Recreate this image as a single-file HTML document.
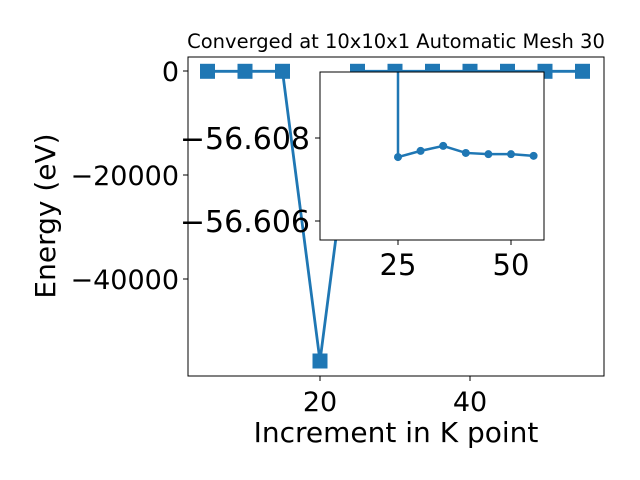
<!DOCTYPE html>
<html><head><meta charset="utf-8"><style>body{margin:0;background:#fff}svg{display:block;font-family:"DejaVu Sans","Liberation Sans",sans-serif}</style></head>
<body>
<svg id="c" width="640" height="480"></svg>
<script>
const kpoints=[5,10,15,20,25,30,35,40,45,50,55];
const energies=[-56.6,-56.6,-56.6,-55770,-56.6075,-56.6077,-56.6078,-56.6076,-56.6076,-56.6076,-56.6076];
const xTicks=[20,40];
const yTicks=[0,-20000,-40000];
const yTickLabels=["0","\u221220000","\u221240000"];
const insetX=[20,25,30,35,40,45,50,55];
const insetY=[-55770,-56.60754,-56.60769,-56.60781,-56.60764,-56.60761,-56.60761,-56.60757];
const insetXTicks=[25,50];
const insetYTicks=[-56.608,-56.606];
const insetYTickLabels=["\u221256.608","\u221256.606"];
const NS="http://www.w3.org/2000/svg",svg=document.getElementById('c');
function mk(t,a,p){const e=document.createElementNS(NS,t);for(const k in a)e.setAttribute(k,a[k]);(p||svg).appendChild(e);return e;}
const C='#1f77b4';
const L=188,R=604,T=57,B=376;
const sx=v=>320+(v-20)*7.5, sy=v=>71-v*104/20000;
let g=mk('g',{});
mk('polyline',{points:kpoints.map((v,i)=>sx(v)+','+sy(energies[i])).join(' '),fill:'none',stroke:C,'stroke-width':2.8},g);
kpoints.forEach((v,i)=>{const r=mk('rect',{x:sx(v)-7.5,y:sy(energies[i])-7.5,width:15,height:15,fill:C},g);});
mk('rect',{x:L,y:T,width:R-L,height:B-T,fill:'none',stroke:'#000','stroke-width':1});
xTicks.forEach(v=>{mk('line',{x1:sx(v),x2:sx(v),y1:B,y2:B+5,stroke:'#000'});const t=mk('text',{x:sx(v),y:B+35,'font-size':27,'text-anchor':'middle'});t.textContent=v;});
yTicks.forEach((v,i)=>{mk('line',{x1:L-5,x2:L,y1:sy(v),y2:sy(v),stroke:'#000'});const t=mk('text',{x:L-9,y:sy(v)+10,'font-size':27,'text-anchor':'end'});t.textContent=yTickLabels[i];});
let t=mk('text',{x:396,y:442,'font-size':28,'text-anchor':'middle'});t.textContent='Increment in K point';
t=mk('text',{x:55,y:216,'font-size':28,'text-anchor':'middle',transform:'rotate(-90 55 216)'});t.textContent='Energy (eV)';
t=mk('text',{x:396,y:48,'font-size':19.5,'text-anchor':'middle'});t.textContent='Converged at 10x10x1 Automatic Mesh 30';
const IL=320,IR=544,IT=72,IB=240;
const ix=v=>398+(v-25)*4.52, iy=v=>138+(v+56.608)*41500;
const ig=mk('g',{});
mk('rect',{x:IL,y:IT,width:IR-IL,height:IB-IT,fill:'#fff'},ig);
mk('clipPath',{id:'ic'},ig);mk('rect',{x:IL,y:IT,width:IR-IL,height:IB-IT},document.getElementById('ic'));
const dg=mk('g',{'clip-path':'url(#ic)'},ig);
const pts=insetX.map((v,i)=>[ix(v),Math.max(-1000,iy(insetY[i]))]);
pts[0][0]=ix(insetX[1]);
mk('polyline',{points:pts.map(p=>p.join(',')).join(' '),fill:'none',stroke:C,'stroke-width':2.5},dg);
insetX.slice(1).forEach((v,i)=>{const c=mk('circle',{cx:ix(v),cy:iy(insetY[i+1]),r:4,fill:C},dg);});
mk('rect',{x:IL,y:IT,width:IR-IL,height:IB-IT,fill:'none',stroke:'#000'},ig);
insetXTicks.forEach(v=>{mk('line',{x1:ix(v),x2:ix(v),y1:IB,y2:IB+5,stroke:'#000'},ig);const t=mk('text',{x:ix(v),y:IB+35,'font-size':29,'text-anchor':'middle'},ig);t.textContent=v;});
insetYTicks.forEach((v,i)=>{mk('line',{x1:IL-5,x2:IL,y1:iy(v),y2:iy(v),stroke:'#000'},ig);const t=mk('text',{x:IL-10,y:iy(v)+11,'font-size':30,'text-anchor':'end'},ig);t.textContent=insetYTickLabels[i];});
</script>
</body></html>
